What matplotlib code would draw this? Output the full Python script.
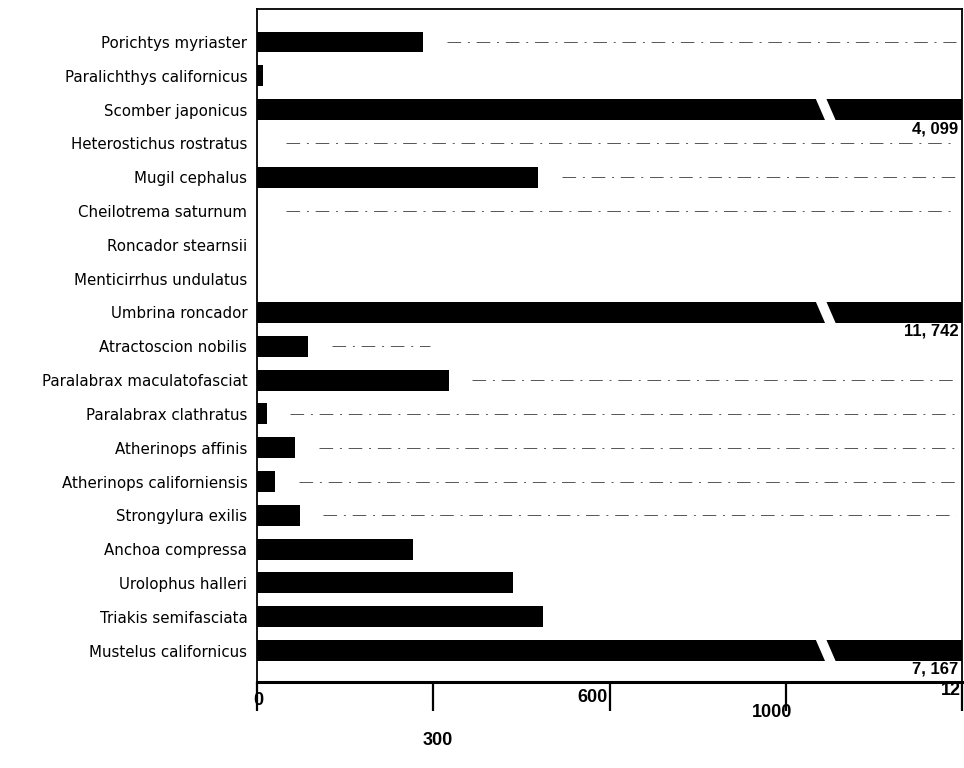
import matplotlib
matplotlib.use("Agg")
import matplotlib.pyplot as plt
from matplotlib.patches import Polygon
import numpy as np

species = [
    "Porichtys myriaster", "Paralichthys californicus", "Scomber japonicus",
    "Heterostichus rostratus", "Mugil cephalus", "Cheilotrema saturnum",
    "Roncador stearnsii", "Menticirrhus undulatus", "Umbrina roncador",
    "Atractoscion nobilis", "Paralabrax maculatofasciat", "Paralabrax clathratus",
    "Atherinops affinis", "Atherinops californiensis", "Strongylura exilis",
    "Anchoa compressa", "Urolophus halleri", "Triakis semifasciata",
    "Mustelus californicus",
]
counts = [283, 10, 4099, 0, 479, 0, 0, 0, 11742, 87, 326, 17, 65, 31, 73,
          266, 435, 487, 7167]
tick_values = [0, 300, 600, 900, 1200]
tick_labels = ["0", "300", "600", "1000", "12"]
axis_max = 1200
# rows that carry faint dash-dot leader lines in the original scan
leader_rows = ["Porichtys myriaster", "Heterostichus rostratus", "Mugil cephalus",
               "Cheilotrema saturnum", "Atractoscion nobilis",
               "Paralabrax maculatofasciat", "Paralabrax clathratus",
               "Atherinops affinis", "Atherinops californiensis",
               "Strongylura exilis"]
leader_ends = {"Atractoscion nobilis": 295}

fig = plt.figure(figsize=(9.64, 7.68), dpi=100)
ax = fig.add_axes([0.2666, 0.112, 0.7314, 0.876])

y = np.arange(len(species))
bar_h = 0.62
ax.barh(y, [min(c, axis_max * 1.02) for c in counts], height=bar_h,
        color="black", edgecolor="none", zorder=2)

ax.set_xlim(0, axis_max)
ax.set_ylim(len(species) - 1 + 0.93, -0.97)

# broken bars for values above the axis maximum
for yi, c in zip(y, counts):
    if c > axis_max:
        cx, w, s = 968, 18, 18
        top, bot = yi - bar_h / 2 - 0.05, yi + bar_h / 2 + 0.05
        poly = Polygon([(cx - w / 2 - s / 2, top), (cx + w / 2 - s / 2, top),
                        (cx + w / 2 + s / 2, bot), (cx - w / 2 + s / 2, bot)],
                       closed=True, facecolor="white", edgecolor="none", zorder=3)
        ax.add_patch(poly)
        ax.text(axis_max * 0.995, yi + 0.56, f"{c:,}".replace(",", ", "),
                ha="right", va="center", fontsize=12, fontweight="bold",
                family="Liberation Sans", zorder=4)

# faint leader lines
for name in leader_rows:
    i = species.index(name)
    start = counts[i] + 40 if counts[i] > 0 else 50
    end = leader_ends.get(name, 1190)
    ax.plot([start, end], [i, i], color="#555555", lw=0.7,
            linestyle=(0, (14, 7, 2, 7)), zorder=1)

ax.set_yticks(y)
ax.set_yticklabels(species, fontsize=10.8, family="DejaVu Sans")
ax.tick_params(axis="y", length=0, pad=7)

ax.set_xticks(tick_values)
ax.set_xticklabels([])
ax.tick_params(axis="x", direction="out", length=21, width=1.6, color="black")

offsets = [(1, -13), (3, -42), (-12, -11), (-10, -22), (-1, -6)]
aligns = ["center", "center", "center", "center", "right"]
for v, lab, (dx, dy), ha in zip(tick_values, tick_labels, offsets, aligns):
    ax.annotate(lab, xy=(v, 0), xycoords=("data", "axes fraction"),
                xytext=(dx, dy), textcoords="offset points",
                ha=ha, va="center", fontsize=13, fontweight="bold",
                family="Liberation Sans", annotation_clip=False)

for side in ["left", "right", "top", "bottom"]:
    ax.spines[side].set_linewidth(1.3)
ax.spines["bottom"].set_linewidth(2.2)

fig.savefig("out.png", dpi=100)
